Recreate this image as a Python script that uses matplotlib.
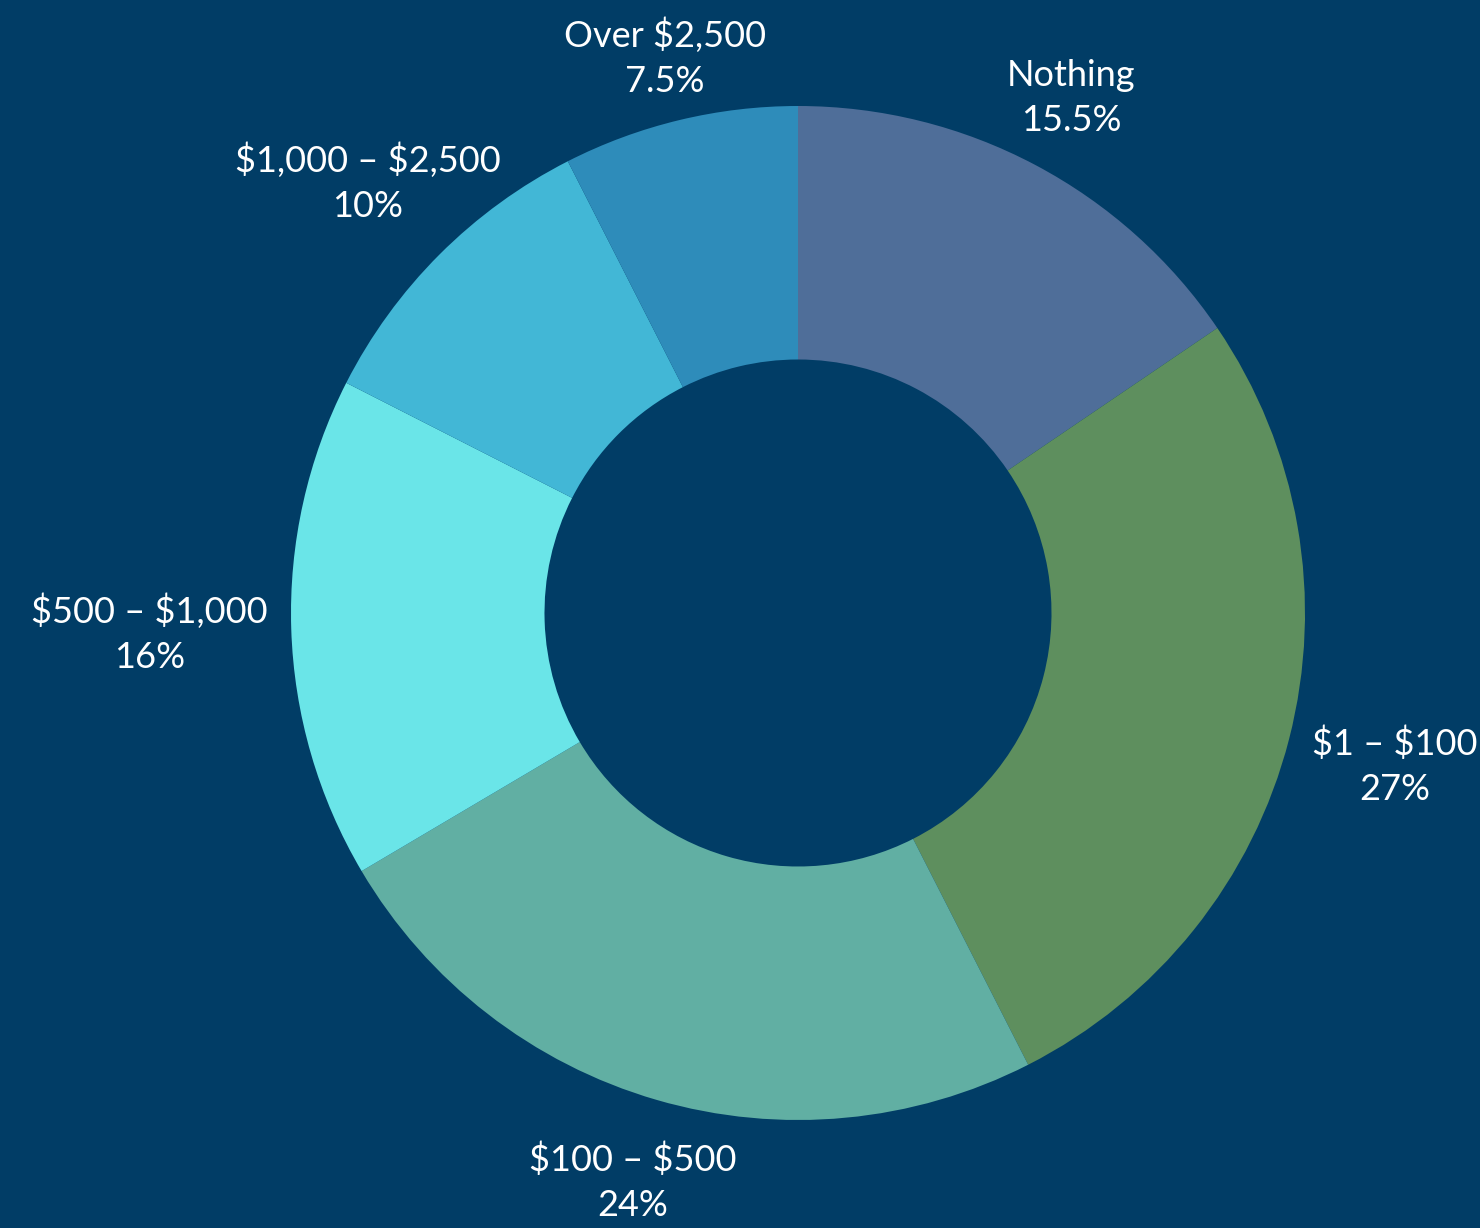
import numpy as np
import matplotlib.pyplot as plt

categories = ["Nothing", "$1 – $100", "$100 – $500", "$500 – $1,000",
              "$1,000 – $2,500", "Over $2,500"]
shares = [15.5, 27, 24, 16, 10, 7.5]
share_labels = ["15.5%", "27%", "24%", "16%", "10%", "7.5%"]
colors = ["#4f6e99", "#5e8f5e", "#61afa3", "#6ae5e8", "#42b7d6", "#2e8cba"]
label_dist = [1.15, 1.215, 1.17, 1.28, 1.20, 1.126]

bg = "#013d66"
W, H = 1480, 1228
cx, cy, R = 798, 613, 507

fig = plt.figure(figsize=(W / 100, H / 100), dpi=100, facecolor=bg)
ax = fig.add_axes([0, 0, 1, 1])
ax.set_facecolor(bg)

wedges, _ = ax.pie(shares, colors=colors, startangle=90, counterclock=False,
                   radius=1, wedgeprops=dict(width=0.5, linewidth=0))

ax.set_xlim(-cx / R, (W - cx) / R)
ax.set_ylim(-(H - cy) / R, cy / R)
ax.set_aspect("equal")
ax.axis("off")

# labels outside the ring, at each wedge's middle angle
for w, cat, pct, d in zip(wedges, categories, share_labels, label_dist):
    ang = np.deg2rad((w.theta1 + w.theta2) / 2)
    ax.text(d * np.cos(ang), d * np.sin(ang), cat + "\n" + pct,
            ha="center", va="center", color="white", fontsize=26,
            family="Lato", linespacing=1.45, parse_math=False)

fig.savefig("out.png", dpi=100, facecolor=bg)
